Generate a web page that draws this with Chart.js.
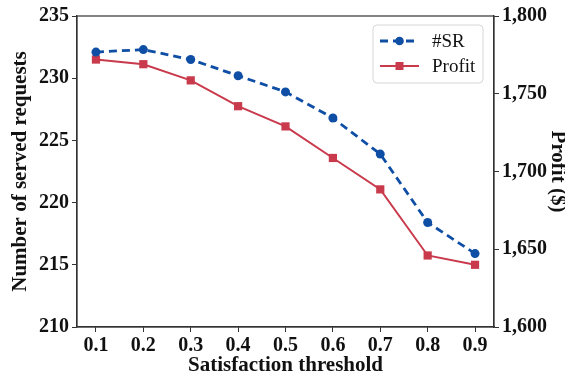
<!DOCTYPE html>
<html>
<head>
<meta charset="utf-8">
<script src="https://cdn.jsdelivr.net/npm/chart.js@4/dist/chart.umd.min.js"></script>
<style>
  html, body { margin: 0; padding: 0; background: #fff; }
  #wrap { width: 565px; height: 378px; }
</style>
</head>
<body>
<div id="wrap"><canvas id="grafico" width="565" height="378"></canvas></div>
<script>
// dados
const limiares  = [0.1, 0.2, 0.3, 0.4, 0.5, 0.6, 0.7, 0.8, 0.9];
const srValores = [232.1, 232.3, 231.5, 230.2, 228.9, 226.8, 223.9, 218.4, 215.9];
const lucro     = [1772, 1769, 1758.6, 1742, 1729, 1708.7, 1688.5, 1646, 1640];
const ticksEsq  = [210, 215, 220, 225, 230, 235];
const ticksDir  = [1600, 1650, 1700, 1750, 1800];

const AZUL = '#0f4ea5';
const VERM = '#c93a4c';
const SERIF = "'Liberation Serif', 'Times New Roman', serif";

// moldura do gráfico + legenda com linha e marcador
const molduraPlugin = {
  id: 'moldura',
  afterDraw(chart) {
    const { ctx, chartArea: a } = chart;
    ctx.save();
    ctx.strokeStyle = '#333';
    ctx.lineWidth = 1.2;
    ctx.strokeRect(a.left, a.top, a.right - a.left, a.bottom - a.top);

    // legenda
    const bx = 373, by = 25, bw = 110, bh = 58;
    ctx.fillStyle = 'rgba(255,255,255,0.85)';
    ctx.strokeStyle = '#d6d6d6';
    ctx.lineWidth = 1;
    ctx.beginPath();
    ctx.roundRect(bx, by, bw, bh, 4);
    ctx.fill();
    ctx.stroke();

    const linhas = [
      { y: 41, cor: AZUL, dash: [8, 5], txt: '#SR', forma: 'circle' },
      { y: 66, cor: VERM, dash: [], txt: 'Profit', forma: 'rect' }
    ];
    linhas.forEach(l => {
      ctx.strokeStyle = l.cor;
      ctx.lineWidth = l.dash.length ? 2.8 : 2;
      ctx.setLineDash(l.dash);
      ctx.beginPath();
      ctx.moveTo(380, l.y);
      ctx.lineTo(419, l.y);
      ctx.stroke();
      ctx.setLineDash([]);
      ctx.fillStyle = l.cor;
      if (l.forma === 'circle') {
        ctx.beginPath();
        ctx.arc(399.5, l.y, 4.3, 0, Math.PI * 2);
        ctx.fill();
      } else {
        ctx.fillRect(395.5, l.y - 4, 8, 8);
      }
      ctx.fillStyle = '#111';
      ctx.font = '19px ' + SERIF;
      ctx.textBaseline = 'middle';
      ctx.textAlign = 'left';
      ctx.fillText(l.txt, 432, l.y + 1);
    });
    ctx.restore();
  }
};

const fonteTick   = { family: SERIF, size: 20, weight: 'bold' };
const fonteTitulo = { family: SERIF, size: 21, weight: 'bold' };

new Chart(document.getElementById('grafico'), {
  type: 'line',
  data: {
    datasets: [
      {
        label: '#SR',
        data: limiares.map((x, i) => ({ x, y: srValores[i] })),
        yAxisID: 'y',
        borderColor: AZUL,
        backgroundColor: AZUL,
        borderWidth: 2.8,
        borderDash: [8, 5],
        pointStyle: 'circle',
        pointRadius: 4.5,
        pointBorderWidth: 0,
        tension: 0
      },
      {
        label: 'Profit',
        data: limiares.map((x, i) => ({ x, y: lucro[i] })),
        yAxisID: 'y1',
        borderColor: VERM,
        backgroundColor: VERM,
        borderWidth: 2,
        pointStyle: 'rect',
        pointRadius: 5.8,
        pointBorderWidth: 0,
        tension: 0
      }
    ]
  },
  options: {
    responsive: false,
    animation: false,
    layout: { padding: { top: 16, left: 0, right: 0, bottom: 0 } },
    plugins: { legend: { display: false }, tooltip: { enabled: false } },
    scales: {
      x: {
        type: 'linear',
        min: 0.06,
        max: 0.94,
        afterBuildTicks: s => { s.ticks = limiares.map(v => ({ value: v })); },
        afterFit: s => { s.height = 51; },
        grid: { drawOnChartArea: false, tickLength: 5, color: '#333' },
        border: { color: '#333', width: 1.2 },
        ticks: {
          color: '#111', font: fonteTick, padding: 2, maxRotation: 0,
          callback: v => v.toFixed(1)
        },
        title: {
          display: true, text: 'Satisfaction threshold', color: '#111',
          font: fonteTitulo, padding: { top: -4, bottom: 0 }
        }
      },
      y: {
        position: 'left',
        min: 210,
        max: 235,
        afterBuildTicks: s => { s.ticks = ticksEsq.map(v => ({ value: v })); },
        afterFit: s => { s.width = 77; },
        grid: { drawOnChartArea: false, tickLength: 5, color: '#333' },
        border: { color: '#333', width: 1.2 },
        ticks: { color: '#111', font: fonteTick, padding: 3 },
        title: {
          display: true, text: 'Number of served requests', color: '#111',
          font: fonteTitulo, padding: { top: 8, bottom: 0 }
        }
      },
      y1: {
        position: 'right',
        min: 1600,
        max: 1800,
        afterBuildTicks: s => { s.ticks = ticksDir.map(v => ({ value: v })); },
        afterFit: s => { s.width = 71; },
        grid: { drawOnChartArea: false, tickLength: 5, color: '#333' },
        border: { color: '#333', width: 1.2 },
        ticks: {
          color: '#111', font: fonteTick, padding: 3,
          callback: v => v.toLocaleString('en-US')
        },
        title: {
          display: true, text: 'Profit ($)', color: '#111',
          font: fonteTitulo, padding: { top: -5, bottom: 0 }
        }
      }
    }
  },
  plugins: [molduraPlugin]
});
</script>
</body>
</html>
